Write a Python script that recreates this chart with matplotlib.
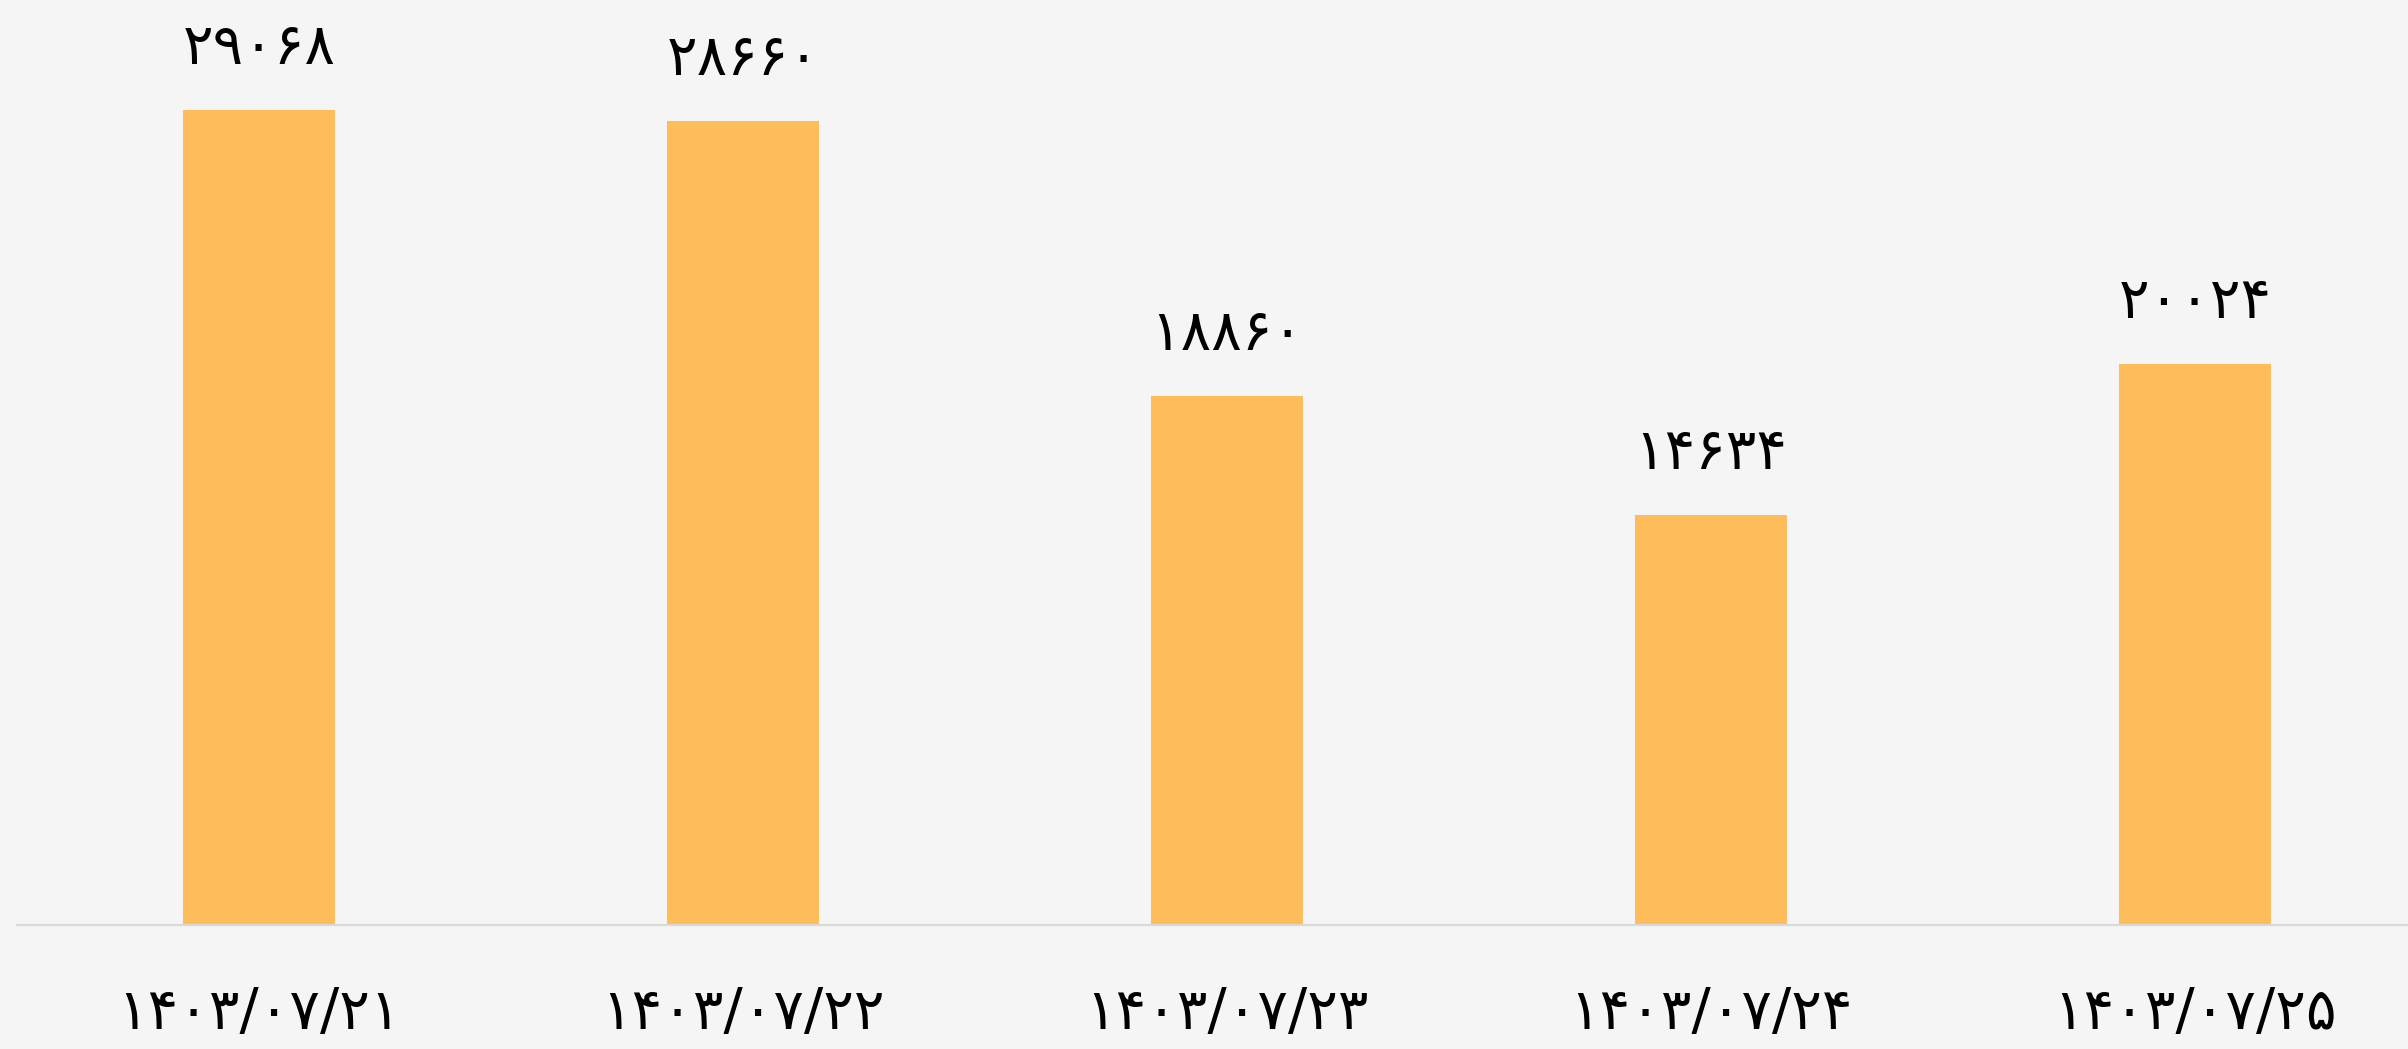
import matplotlib
matplotlib.use("Agg")
import matplotlib.pyplot as plt

dates = ["۱۴۰۳/۰۷/۲۱", "۱۴۰۳/۰۷/۲۲", "۱۴۰۳/۰۷/۲۳", "۱۴۰۳/۰۷/۲۴", "۱۴۰۳/۰۷/۲۵"]
values = [29068, 28660, 18860, 14634, 20024]
value_labels = ["۲۹۰۶۸", "۲۸۶۶۰", "۱۸۸۶۰", "۱۴۶۳۴", "۲۰۰۲۴"]

W, H = 2408, 1049
fig = plt.figure(figsize=(W / 100, H / 100), dpi=100)
fig.patch.set_facecolor("#f5f5f5")

# axes spans from the left margin to the right edge, bottom at baseline
ax = fig.add_axes([17 / W, (H - 925) / H, (W - 17) / W, 925 / H])
ax.set_facecolor("#f5f5f5")

x = list(range(len(values)))
bars = ax.bar(x, values, width=0.314, color="#ffbc5a", zorder=2)

ax.set_xlim(-0.5, 4.44)
ax.set_ylim(0, 32990)

for spine in ["top", "right", "left"]:
    ax.spines[spine].set_visible(False)
ax.spines["bottom"].set_color("#d9d9d9")
ax.spines["bottom"].set_linewidth(1.6)
ax.set_yticks([])
ax.set_xticks(x)
ax.set_xticklabels(dates, fontsize=41, family="DejaVu Sans")
ax.tick_params(axis="x", length=0, pad=44)

for b, lab in zip(bars, value_labels):
    ax.annotate(lab, (b.get_x() + b.get_width() / 2, b.get_height()),
                xytext=(0, 34), textcoords="offset pixels",
                ha="center", va="bottom", fontsize=41, family="DejaVu Sans")

fig.savefig("out.png", dpi=100, facecolor=fig.get_facecolor())
